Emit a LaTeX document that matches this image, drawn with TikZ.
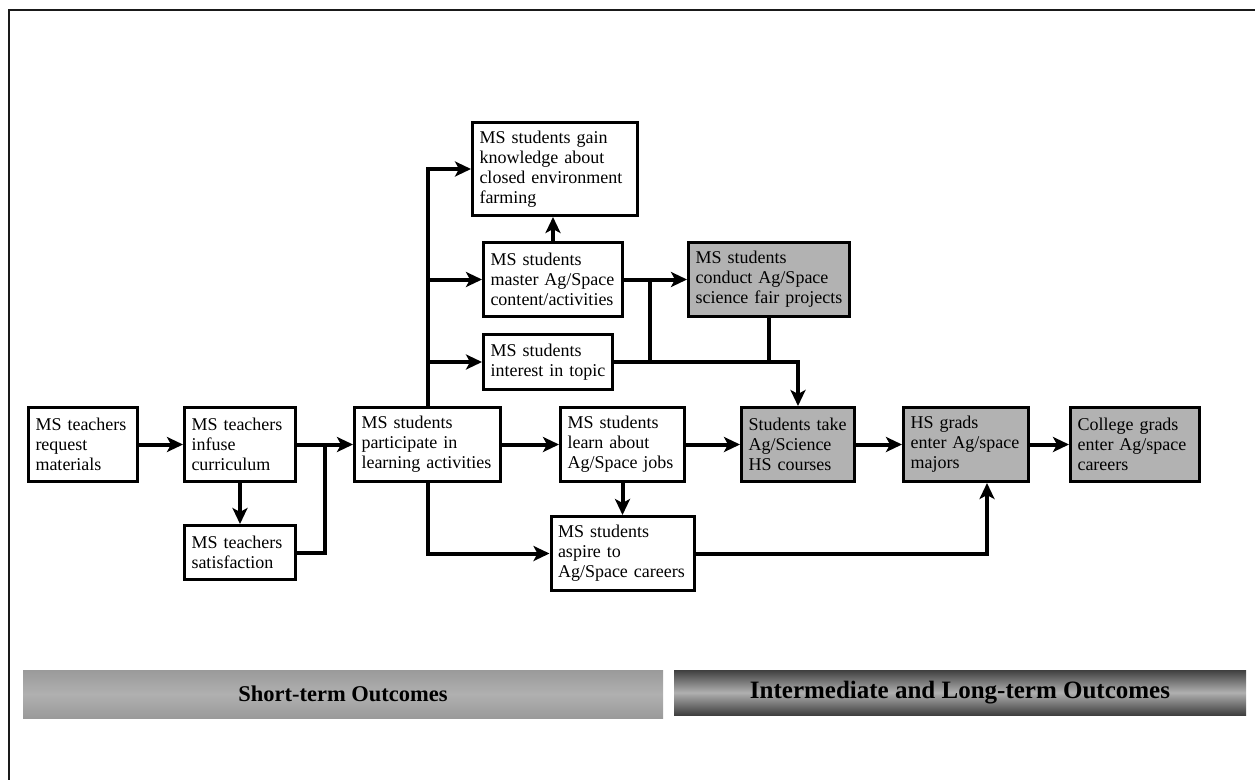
\documentclass[tikz,border=0pt]{standalone}
\usepackage{fontspec}
\setmainfont{Liberation Serif}
\usetikzlibrary{arrows.meta,positioning,calc}
\definecolor{lmInk}{HTML}{000000}
\definecolor{lmBoxGray}{HTML}{B2B2B2}
\definecolor{lmBandMid}{HTML}{9A9A9A}
\definecolor{lmBandLight}{HTML}{B0B0B0}
\definecolor{lmBandDark}{HTML}{3F3F3F}
\definecolor{lmFrame}{HTML}{1A1A1A}
\tikzset{
  obox/.style={rectangle,draw=lmInk,line width=3pt,fill=white,
    align=left,inner xsep=7pt,inner ysep=4pt,minimum height=74pt,
    font=\fontsize{18}{20}\selectfont,text=lmInk},
  gobox/.style={obox,fill=lmBoxGray},
  band/.style={rectangle,inner sep=0pt,
    font=\fontsize{22.5}{26}\selectfont\bfseries,text=black},
  arr/.style={-{Stealth[length=16pt,width=15pt,inset=4pt]},
    line width=4pt,color=lmInk},
  seg/.style={line width=4pt,color=lmInk},
}

\begin{document}
\begin{tikzpicture}[x=1pt,y=-1pt,line join=miter]
  \useasboundingbox (0,0) rectangle (1255,779);
  \draw[line width=2.5pt,color=lmFrame] (9,10) rectangle (1275,800);

  % main row
  \node[obox,text width=95pt] (req) at (83,444.5)
    {MS teachers\\request\\materials};
  \node[obox,text width=97pt,right=44pt of req] (inf)
    {MS teachers\\infuse\\curriculum};
  \node[obox,text width=97pt,minimum height=54pt,below=41pt of inf] (sat)
    {MS teachers\\satisfaction};
  \node[obox,text width=132pt,right=56pt of inf] (part)
    {MS students\\participate in\\learning activities};
  \node[obox,text width=110pt,right=57pt of part] (jobs)
    {MS students\\learn about\\Ag/Space jobs};
  \node[obox,text width=129pt,below=32pt of jobs] (asp)
    {MS students\\aspire to\\Ag/Space careers};
  \node[gobox,text width=99pt,right=54pt of jobs] (hsc)
    {Students take\\Ag/Science\\HS courses};
  \node[gobox,text width=111pt,right=46pt of hsc] (maj)
    {HS grads\\enter Ag/space\\majors};
  \node[gobox,text width=115pt,right=39pt of maj] (car)
    {College grads\\enter Ag/space\\careers};

  % upper branch
  \node[obox,text width=151pt,minimum height=93pt] (gain) at (555,169)
    {MS students gain\\knowledge about\\closed environment\\farming};
  \node[obox,text width=125pt] (mast) at (553,279.5)
    {MS students\\master Ag/Space\\content/activities};
  \node[obox,text width=115pt,minimum height=55pt] (int) at (548,362)
    {MS students\\interest in topic};
  \node[gobox,text width=147pt] (fair) at (769,279.5)
    {MS students\\conduct Ag/Space\\science fair projects};

  % outcome bands
  \node[band,minimum width=640pt,minimum height=48pt,
    top color=lmBandMid,bottom color=lmBandMid,middle color=lmBandLight]
    (shortband) at (343,694) {Short-term Outcomes};
  \node[band,minimum width=572pt,minimum height=45pt,
    font=\fontsize{25}{28}\selectfont\bfseries,
    top color=lmBandDark,bottom color=lmBandDark,middle color=lmBandLight]
    (longband) at (960,692.5) {Intermediate and Long-term Outcomes};

  % connectors
  \coordinate (jA) at ($(inf.east)!0.5!(part.west)$);
  \coordinate (jB) at ($(mast.east)+(26,0)$);
  \coordinate (kIn) at ($(maj.south)+(21,0)$);

  \draw[arr] (req) -- (inf);
  \draw[arr] (inf) -- (sat);
  \draw[arr] (inf) -- (part);
  \draw[seg] (sat.east) -| (jA);
  \draw[arr] (part.north) |- (gain.west);
  \draw[arr] (part.north) |- (mast.west);
  \draw[arr] (part.north) |- (int.west);
  \draw[arr] (part.south) |- (asp.west);
  \draw[arr] (part) -- (jobs);
  \draw[arr] (jobs) -- (asp);
  \draw[arr] (mast.north) -- (mast.north |- gain.south);
  \draw[arr] (mast) -- (fair);
  \draw[seg] (jB) |- (int.east);
  \draw[seg] (fair.south) -- (fair.south |- int.east);
  \draw[arr] (int.east) -| (hsc.north);
  \draw[arr] (jobs) -- (hsc);
  \draw[arr] (hsc) -- (maj);
  \draw[arr] (maj) -- (car);
  \draw[arr] (asp.east) -| (kIn);
\end{tikzpicture}
\end{document}
